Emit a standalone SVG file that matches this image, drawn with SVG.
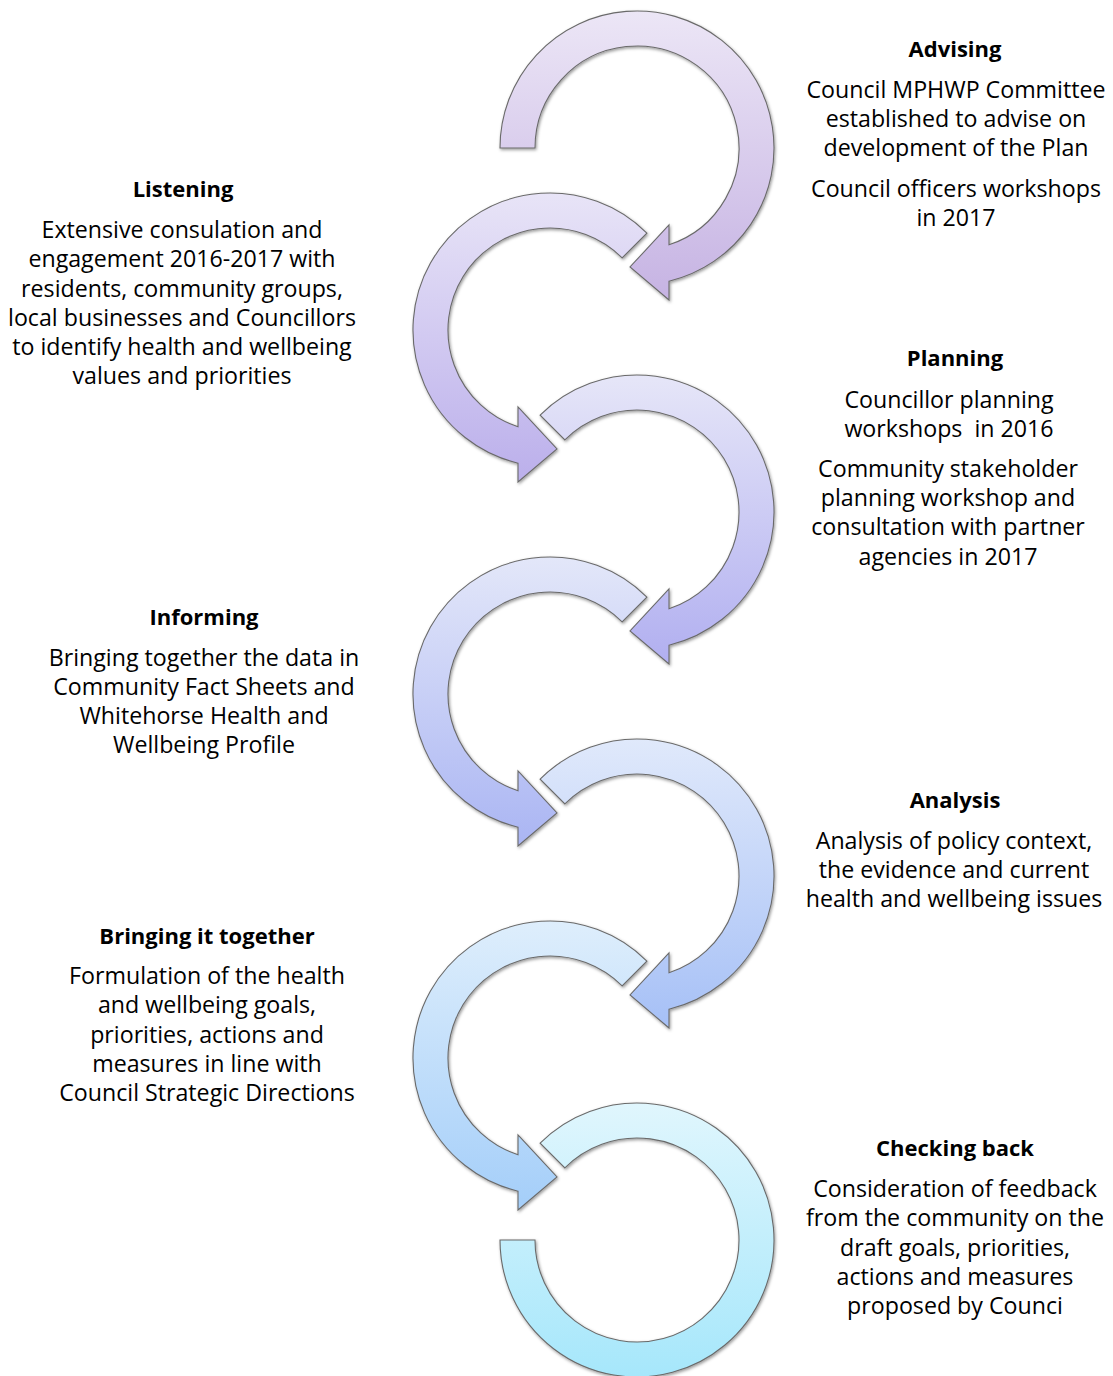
<svg xmlns="http://www.w3.org/2000/svg" width="1113" height="1376" viewBox="0 0 1113 1376">
<style>
text{font-family:"Open Sans","Liberation Sans",sans-serif;font-size:23.2px;fill:#000;text-anchor:middle}
.h{font-weight:bold;font-size:22px}
.arr{stroke:#6a6a6a;stroke-width:1.1;filter:url(#sh)}
</style>
<defs>
<filter id="sh" x="-10%" y="-10%" width="120%" height="120%"><feDropShadow dx="1" dy="1.5" stdDeviation="1.5" flood-color="#000" flood-opacity="0.4"/></filter>
<linearGradient id="g1" x1="0" y1="0" x2="0" y2="1"><stop offset="0" stop-color="#ece6f6"/><stop offset="1" stop-color="#c6b3e3"/></linearGradient>
<linearGradient id="g2" x1="0" y1="0" x2="0" y2="1"><stop offset="0" stop-color="#e8e4f7"/><stop offset="1" stop-color="#bbafeb"/></linearGradient>
<linearGradient id="g3" x1="0" y1="0" x2="0" y2="1"><stop offset="0" stop-color="#e6e6f8"/><stop offset="1" stop-color="#b1aff0"/></linearGradient>
<linearGradient id="g4" x1="0" y1="0" x2="0" y2="1"><stop offset="0" stop-color="#e3e7f9"/><stop offset="1" stop-color="#aab5f3"/></linearGradient>
<linearGradient id="g5" x1="0" y1="0" x2="0" y2="1"><stop offset="0" stop-color="#e0e9fb"/><stop offset="1" stop-color="#a6c0f6"/></linearGradient>
<linearGradient id="g6" x1="0" y1="0" x2="0" y2="1"><stop offset="0" stop-color="#deeefc"/><stop offset="1" stop-color="#a4cef9"/></linearGradient>
<linearGradient id="g7" x1="0" y1="0" x2="0" y2="1"><stop offset="0" stop-color="#e0f6fd"/><stop offset="1" stop-color="#a6e7fb"/></linearGradient>
</defs>
<g id="connectors">
<path class="arr" fill="url(#g1)" transform="translate(637,148)" d="M -137 0 A 137 137 0 1 1 32 133.2 L 32 152 L -7 119 L 32 77 L 32 96.85 A 102 102 0 1 0 -102 0 Z"/>
<path class="arr" fill="url(#g2)" transform="translate(550,330)" d="M 96.87 -96.87 A 137 137 0 1 0 -32 133.2 L -32 152 L 7 119 L -32 77 L -32 96.85 A 102 102 0 1 1 72.12 -72.12 Z"/>
<path class="arr" fill="url(#g3)" transform="translate(637,512)" d="M -96.87 -96.87 A 137 137 0 1 1 32 133.2 L 32 152 L -7 119 L 32 77 L 32 96.85 A 102 102 0 1 0 -72.12 -72.12 Z"/>
<path class="arr" fill="url(#g4)" transform="translate(550,694)" d="M 96.87 -96.87 A 137 137 0 1 0 -32 133.2 L -32 152 L 7 119 L -32 77 L -32 96.85 A 102 102 0 1 1 72.12 -72.12 Z"/>
<path class="arr" fill="url(#g5)" transform="translate(637,876)" d="M -96.87 -96.87 A 137 137 0 1 1 32 133.2 L 32 152 L -7 119 L 32 77 L 32 96.85 A 102 102 0 1 0 -72.12 -72.12 Z"/>
<path class="arr" fill="url(#g6)" transform="translate(550,1058)" d="M 96.87 -96.87 A 137 137 0 1 0 -32 133.2 L -32 152 L 7 119 L -32 77 L -32 96.85 A 102 102 0 1 1 72.12 -72.12 Z"/>
<path class="arr" fill="url(#g7)" transform="translate(637,1240)" d="M -96.87 -96.87 A 137 137 0 1 1 -137 0 L -102 0 A 102 102 0 1 0 -72.12 -72.12 Z"/>
</g>
<g id="advising">
<text class="h" x="955" y="57">Advising</text>
<text x="956" y="98">Council MPHWP Committee</text>
<text x="956" y="127">established to advise on</text>
<text x="956" y="156">development of the Plan</text>
<text x="956" y="197">Council officers workshops</text>
<text x="956" y="226">in 2017</text>
</g>
<g id="listening">
<text class="h" x="183" y="197">Listening</text>
<text x="182" y="238">Extensive consulation and</text>
<text x="182" y="267">engagement 2016-2017 with</text>
<text x="182" y="297">residents, community groups,</text>
<text x="182" y="326">local businesses and Councillors</text>
<text x="182" y="355">to identify health and wellbeing</text>
<text x="182" y="384">values and priorities</text>
</g>
<g id="planning">
<text class="h" x="955" y="366">Planning</text>
<text x="949" y="408">Councillor planning</text>
<text x="949" y="437" style="white-space:pre">workshops  in 2016</text>
<text x="948" y="477">Community stakeholder</text>
<text x="948" y="506">planning workshop and</text>
<text x="948" y="535">consultation with partner</text>
<text x="948" y="565">agencies in 2017</text>
</g>
<g id="informing">
<text class="h" x="204" y="625">Informing</text>
<text x="204" y="666">Bringing together the data in</text>
<text x="204" y="695">Community Fact Sheets and</text>
<text x="204" y="724">Whitehorse Health and</text>
<text x="204" y="753">Wellbeing Profile</text>
</g>
<g id="analysis">
<text class="h" x="955" y="808">Analysis</text>
<text x="954" y="849">Analysis of policy context,</text>
<text x="954" y="878">the evidence and current</text>
<text x="954" y="907">health and wellbeing issues</text>
</g>
<g id="bringing-it-together">
<text class="h" x="207" y="944">Bringing it together</text>
<text x="207" y="984">Formulation of the health</text>
<text x="207" y="1013">and wellbeing goals,</text>
<text x="207" y="1043">priorities, actions and</text>
<text x="207" y="1072">measures in line with</text>
<text x="207" y="1101">Council Strategic Directions</text>
</g>
<g id="checking-back">
<text class="h" x="955" y="1156">Checking back</text>
<text x="955" y="1197">Consideration of feedback</text>
<text x="955" y="1226">from the community on the</text>
<text x="955" y="1256">draft goals, priorities,</text>
<text x="955" y="1285">actions and measures</text>
<text x="955" y="1314">proposed by Counci</text>
</g>
</svg>
